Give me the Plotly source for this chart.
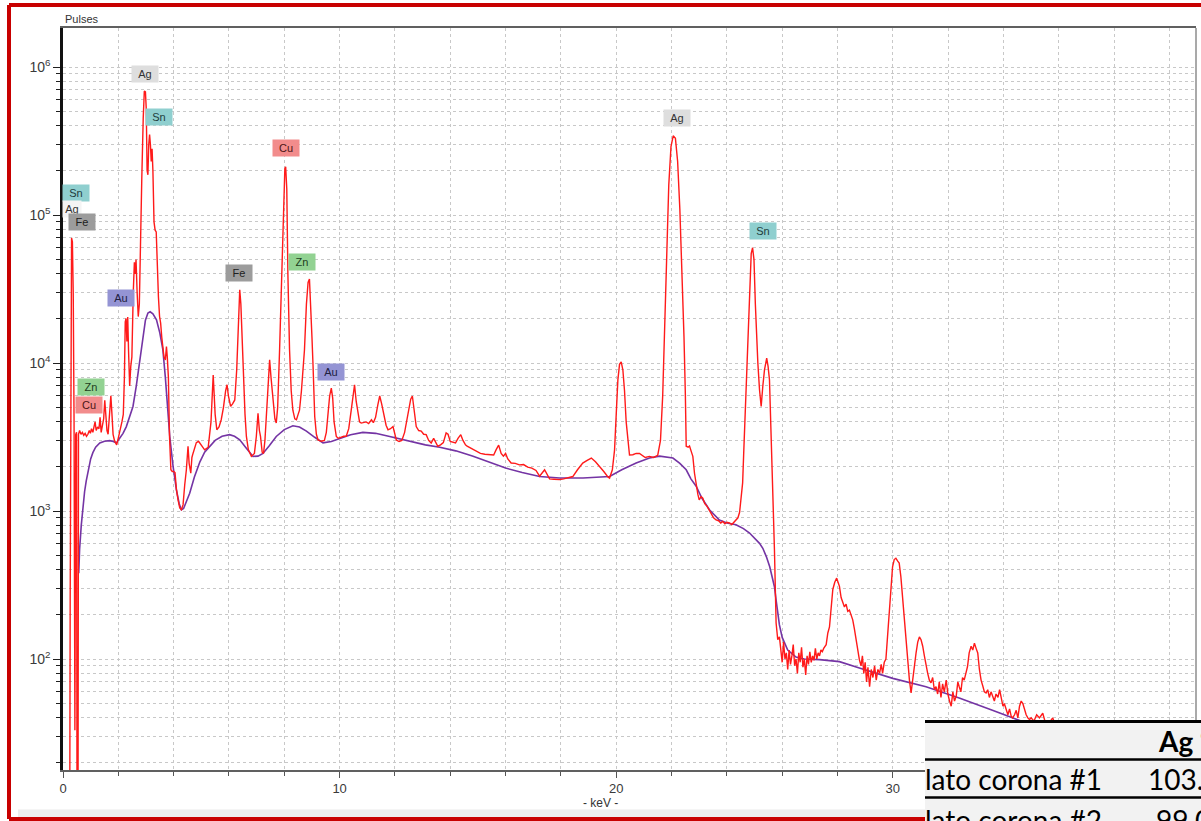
import math
import plotly.graph_objects as go

# ---------------- data ----------------
# red measured spectrum: (keV, pulses)
spectrum_points = [
    (0.00, 3), (0.24, 3), (0.26, 250), (0.28, 25000), (0.31, 70000), (0.34, 66000), (0.37, 30000),
    (0.40, 4000), (0.43, 33), (0.46, 3300), (0.49, 3400), (0.51, 3), (0.54, 3), (0.56, 3300),
    (0.60, 3500), (0.65, 3300), (0.70, 3400), (0.75, 3250), (0.80, 3350), (0.85, 3200), (0.90, 3300),
    (0.95, 3500), (0.99, 3350), (1.03, 3600), (1.08, 3400), (1.12, 3700), (1.16, 4000), (1.20, 3500),
    (1.25, 3700), (1.30, 3600), (1.34, 4300), (1.38, 3400), (1.42, 3700), (1.47, 4200), (1.51, 5600),
    (1.55, 4000), (1.59, 3500), (1.63, 3300), (1.68, 4500), (1.73, 6000), (1.77, 4500), (1.81, 3300),
    (1.86, 3000), (1.90, 2900), (1.94, 2800), (1.98, 3000), (2.03, 3300), (2.08, 3500), (2.13, 4000),
    (2.18, 4500), (2.22, 8000), (2.25, 19000), (2.28, 20000), (2.31, 14000), (2.34, 20500), (2.37, 12000),
    (2.41, 7000), (2.45, 9500), (2.49, 11000), (2.54, 30000), (2.58, 48000), (2.61, 40000), (2.64, 50000),
    (2.68, 30000), (2.72, 20600), (2.76, 25000), (2.80, 80000), (2.85, 182000), (2.90, 450000),
    (2.94, 690000), (2.98, 680000), (3.01, 520000), (3.04, 200000), (3.07, 187000), (3.10, 300000),
    (3.13, 350000), (3.16, 300000), (3.19, 230000), (3.22, 280000), (3.25, 200000), (3.29, 90000),
    (3.33, 79000), (3.37, 77000), (3.41, 40000), (3.45, 28000), (3.49, 20700), (3.53, 18600),
    (3.57, 15000), (3.61, 12900), (3.65, 11000), (3.70, 10500), (3.74, 12900), (3.77, 11000),
    (3.81, 8000), (3.85, 3200), (3.90, 1900), (3.95, 1850), (4.00, 1850), (4.05, 1820), (4.10, 1400),
    (4.16, 1190), (4.22, 1050), (4.28, 1020), (4.34, 1100), (4.40, 1500), (4.46, 1900), (4.52, 2740),
    (4.56, 2100), (4.62, 1800), (4.66, 2300), (4.70, 2450), (4.76, 2700), (4.82, 2900), (4.90, 2960),
    (5.00, 2800), (5.12, 2590), (5.25, 2700), (5.35, 4000), (5.43, 8300), (5.50, 4500), (5.56, 3540),
    (5.64, 3700), (5.72, 4140), (5.80, 5000), (5.88, 6500), (5.93, 7130), (5.98, 6000), (6.06, 5090),
    (6.13, 5300), (6.21, 5630), (6.28, 9000), (6.34, 20000), (6.39, 31300), (6.43, 25000), (6.48, 14000),
    (6.52, 7330), (6.58, 4500), (6.63, 3190), (6.70, 2600), (6.81, 2340), (6.92, 2450), (6.99, 3200),
    (7.05, 4580), (7.10, 3500), (7.14, 3190), (7.20, 2500), (7.25, 2450), (7.30, 3000), (7.35, 4350),
    (7.41, 8000), (7.47, 10500), (7.52, 8000), (7.59, 5630), (7.66, 4200), (7.71, 3930), (7.76, 5000),
    (7.83, 12300), (7.90, 35000), (7.96, 100000), (8.02, 205000), (8.05, 212000), (8.09, 150000),
    (8.13, 40000), (8.19, 12300), (8.25, 6500), (8.31, 4800), (8.38, 4200), (8.44, 4140), (8.50, 4500),
    (8.55, 4800), (8.62, 6500), (8.68, 9000), (8.73, 12300), (8.80, 25000), (8.86, 35000), (8.91, 37000),
    (8.96, 25000), (9.00, 15000), (9.04, 9500), (9.10, 4350), (9.16, 3300), (9.22, 3020), (9.34, 2960),
    (9.45, 3000), (9.52, 3400), (9.58, 4500), (9.64, 5990), (9.70, 6770), (9.75, 5800), (9.80, 4000),
    (9.88, 3190), (9.95, 3100), (10.05, 3150), (10.15, 3200), (10.24, 3200), (10.33, 3600), (10.42, 4800),
    (10.48, 6000), (10.54, 7130), (10.60, 5500), (10.66, 4500), (10.72, 4000), (10.78, 3930),
    (10.86, 3950), (10.96, 4000), (11.05, 3900), (11.15, 4140), (11.22, 3950), (11.30, 4300),
    (11.38, 5200), (11.45, 5990), (11.52, 5300), (11.60, 4500), (11.68, 3800), (11.75, 3540),
    (11.84, 3600), (11.93, 3720), (12.00, 3300), (12.05, 3020), (12.15, 2950), (12.25, 3000),
    (12.35, 3400), (12.41, 3930), (12.50, 5000), (12.57, 5700), (12.63, 5990), (12.70, 4800),
    (12.77, 3720), (12.86, 3500), (12.95, 3470), (13.04, 3300), (13.13, 3280), (13.22, 3000),
    (13.31, 2880), (13.40, 3100), (13.48, 2900), (13.55, 2740), (13.65, 2800), (13.75, 2900),
    (13.85, 3370), (13.92, 3300), (14.00, 2950), (14.10, 2900), (14.19, 2880), (14.28, 3100),
    (14.38, 3280), (14.46, 3000), (14.55, 2800), (14.61, 2740), (14.75, 2650), (14.90, 2550),
    (15.09, 2450), (15.25, 2420), (15.40, 2400), (15.57, 2390), (15.66, 2600), (15.75, 2790),
    (15.84, 2450), (15.92, 2350), (16.00, 2450), (16.08, 2250), (16.20, 2110), (16.35, 2100),
    (16.50, 2050), (16.65, 2060), (16.80, 1980), (16.95, 1950), (17.10, 1880), (17.23, 1720),
    (17.41, 1900), (17.59, 1650), (17.75, 1640), (17.95, 1630), (18.10, 1650), (18.25, 1680),
    (18.43, 1710), (18.60, 1900), (18.79, 2110), (18.95, 2200), (19.10, 2280), (19.25, 2150),
    (19.40, 2000), (19.55, 1850), (19.70, 1700), (19.76, 1670), (19.86, 1900), (19.94, 2590),
    (20.00, 4500), (20.06, 7690), (20.12, 9800), (20.18, 10200), (20.24, 9000), (20.30, 6500),
    (20.36, 4000), (20.42, 3020), (20.48, 2390), (20.60, 2400), (20.72, 2450), (20.84, 2450),
    (20.95, 2380), (21.05, 2300), (21.20, 2340), (21.35, 2300), (21.50, 2380), (21.60, 3000),
    (21.68, 6000), (21.75, 16800), (21.82, 60000), (21.90, 160000), (21.98, 290000), (22.06, 343000),
    (22.14, 330000), (22.22, 230000), (22.30, 110000), (22.38, 40000), (22.45, 15000), (22.50, 6000),
    (22.53, 2740), (22.60, 2700), (22.65, 2750), (22.72, 2500), (22.77, 2340), (22.83, 1800),
    (22.89, 1470), (22.95, 1300), (23.00, 1190), (23.07, 1250), (23.13, 1220), (23.20, 1120),
    (23.28, 1080), (23.37, 1020), (23.45, 950), (23.52, 900), (23.61, 870), (23.70, 860), (23.78, 830),
    (23.85, 850), (23.93, 820), (24.00, 840), (24.09, 830), (24.18, 810), (24.26, 840), (24.33, 860),
    (24.40, 900), (24.46, 980), (24.52, 1200), (24.57, 1550), (24.61, 2500), (24.64, 3540),
    (24.70, 9000), (24.76, 16800), (24.82, 35000), (24.88, 55000), (24.93, 60100), (24.98, 50000),
    (25.03, 25000), (25.06, 16800), (25.12, 10000), (25.18, 6600), (25.24, 5090), (25.30, 7000),
    (25.36, 9000), (25.44, 10800), (25.49, 9500), (25.54, 7700), (25.60, 3540), (25.66, 1260),
    (25.72, 550), (25.78, 175), (25.84, 135), (25.90, 141), (25.95, 120), (26.00, 95), (26.05, 130),
    (26.10, 100), (26.15, 110), (26.20, 85), (26.25, 115), (26.30, 92), (26.35, 105), (26.40, 125),
    (26.45, 90), (26.50, 100), (26.55, 80), (26.60, 110), (26.65, 95), (26.70, 120), (26.75, 88),
    (26.80, 100), (26.85, 78), (26.90, 105), (26.95, 92), (27.00, 112), (27.05, 95), (27.10, 105),
    (27.15, 98), (27.20, 118), (27.25, 100), (27.30, 110), (27.35, 105), (27.40, 115), (27.45, 112),
    (27.50, 118), (27.59, 125), (27.65, 150), (27.71, 165), (27.77, 230), (27.83, 295), (27.90, 330),
    (27.97, 352), (28.02, 330), (28.07, 310), (28.13, 260), (28.19, 239), (28.25, 225), (28.31, 235),
    (28.37, 210), (28.43, 214), (28.49, 200), (28.55, 184), (28.61, 160), (28.67, 135), (28.73, 115),
    (28.79, 99), (28.85, 90), (28.90, 105), (28.95, 80), (29.00, 95), (29.05, 70), (29.10, 88),
    (29.16, 65), (29.22, 85), (29.28, 75), (29.34, 90), (29.40, 72), (29.46, 85), (29.52, 80),
    (29.58, 92), (29.63, 80), (29.69, 95), (29.75, 100), (29.81, 140), (29.87, 205), (29.93, 300),
    (29.99, 420), (30.05, 470), (30.11, 480), (30.17, 460), (30.23, 445), (30.29, 360), (30.35, 265),
    (30.41, 180), (30.48, 122), (30.54, 90), (30.60, 72), (30.66, 59), (30.72, 75), (30.78, 89),
    (30.84, 110), (30.90, 130), (30.96, 141), (31.02, 135), (31.08, 122), (31.14, 105), (31.20, 89),
    (31.26, 80), (31.32, 72), (31.38, 69), (31.44, 75), (31.50, 62), (31.56, 65), (31.62, 58),
    (31.68, 70), (31.74, 55), (31.80, 68), (31.86, 60), (31.93, 72), (31.99, 58), (32.05, 52),
    (32.11, 48), (32.17, 60), (32.23, 52), (32.29, 56), (32.35, 70), (32.40, 65), (32.46, 60),
    (32.52, 75), (32.58, 72), (32.64, 80), (32.70, 89), (32.76, 110), (32.83, 122), (32.89, 115),
    (32.95, 128), (33.01, 118), (33.07, 110), (33.13, 85), (33.19, 72), (33.25, 66), (33.31, 60),
    (33.37, 59), (33.43, 62), (33.49, 55), (33.55, 60), (33.61, 56), (33.67, 52), (33.73, 58),
    (33.80, 55), (33.86, 62), (33.92, 54), (33.98, 48), (34.03, 50), (34.10, 45), (34.16, 42),
    (34.22, 46), (34.28, 41), (34.33, 40), (34.40, 42), (34.46, 45), (34.52, 40), (34.58, 48),
    (34.64, 52), (34.70, 50), (34.76, 45), (34.82, 42), (34.88, 40), (34.94, 39), (35.00, 40),
    (35.10, 38), (35.20, 42), (35.30, 40), (35.42, 43), (35.50, 38), (35.60, 36), (35.70, 38),
    (35.78, 40), (35.90, 35), (36.10, 33), (36.40, 30), (36.80, 28), (37.20, 27), (37.80, 25),
    (38.50, 24), (39.20, 22), (40.00, 21), (40.90, 20),
]

# purple fitted background: (keV, pulses)
background_points = [
    (0.57, 380), (0.60, 550), (0.66, 800), (0.72, 1100), (0.78, 1350), (0.84, 1600), (0.92, 1950),
    (1.00, 2250), (1.08, 2480), (1.18, 2700), (1.33, 2880), (1.50, 2960), (1.69, 2990), (1.82, 2950),
    (1.93, 2880), (2.05, 3100), (2.17, 3350), (2.29, 3720), (2.41, 4300), (2.53, 5090), (2.65, 7000),
    (2.77, 10480), (2.88, 15000), (2.98, 19500), (3.07, 21800), (3.15, 22200), (3.25, 21500),
    (3.38, 19600), (3.50, 16000), (3.61, 12300), (3.70, 8000), (3.78, 5000), (3.86, 3190), (3.98, 2000),
    (4.10, 1390), (4.20, 1120), (4.28, 1020), (4.36, 1040), (4.46, 1150), (4.58, 1320), (4.75, 1700),
    (4.95, 2150), (5.12, 2500), (5.30, 2740), (5.50, 3000), (5.75, 3200), (6.02, 3280), (6.20, 3200),
    (6.39, 3030), (6.60, 2700), (6.87, 2340), (7.05, 2350), (7.23, 2450), (7.45, 2750), (7.71, 3190),
    (8.00, 3550), (8.31, 3770), (8.55, 3700), (8.80, 3470), (9.10, 3150), (9.40, 2890), (9.70, 2950),
    (10.00, 3090), (10.40, 3280), (10.84, 3400), (11.30, 3350), (11.81, 3190), (12.20, 3060),
    (12.53, 2950), (13.10, 2800), (13.62, 2700), (14.20, 2550), (14.80, 2350), (15.31, 2160),
    (16.00, 1950), (16.60, 1820), (17.23, 1710), (17.95, 1670), (18.80, 1670), (19.76, 1710),
    (20.20, 1900), (20.72, 2110), (21.20, 2280), (21.57, 2350), (22.05, 2280), (22.30, 2100),
    (22.53, 1900), (22.70, 1650), (22.89, 1470), (23.10, 1220), (23.37, 1020), (23.73, 870),
    (24.00, 830), (24.33, 807), (24.60, 760), (24.82, 710), (25.00, 660), (25.18, 605), (25.30, 560),
    (25.43, 490), (25.55, 420), (25.65, 350), (25.72, 308), (25.78, 250), (25.84, 204), (25.90, 170),
    (26.00, 140), (26.20, 115), (26.50, 103), (26.80, 100), (27.35, 99), (28.07, 96), (28.79, 87),
    (29.40, 80), (30.00, 74), (31.20, 65), (32.40, 54.5), (33.60, 45), (34.30, 40), (35.00, 36),
    (36.00, 31), (37.00, 28), (38.00, 26), (39.00, 24), (40.00, 22), (40.90, 21),
]

# element peak labels: name, keV, pulses at label centre
label_names = ["Sn", "Ag", "Fe", "Zn", "Cu", "Au", "Ag", "Sn", "Fe", "Cu", "Zn", "Au", "Ag", "Sn"]
label_kev = [0.46, 0.31, 0.68, 1.00, 0.93, 2.09, 2.95, 3.46, 6.38, 8.05, 8.63, 9.70, 22.18, 25.29]
label_pulses = [1.40e5, 1.10e5, 9.0e4, 6.85e3, 5.2e3, 2.76e4, 9.0e5, 4.6e5, 4.07e4, 2.85e5, 4.83e4,
                8.7e3, 4.54e5, 7.8e4]

x_major_ticks = [0, 10, 20, 30, 40]
x_minor_ticks = [2, 4, 6, 8, 12, 14, 16, 18, 22, 24, 26, 28, 32, 34, 36, 38]
y_major_ticks = [1e2, 1e3, 1e4, 1e5, 1e6]
y_major_text = ["10<sup>2</sup>", "10<sup>3</sup>", "10<sup>4</sup>", "10<sup>5</sup>", "10<sup>6</sup>"]
y_minor_ticks = [m * 10 ** e for e in range(1, 6) for m in range(2, 10)]

table_header = "Ag %"
table_rows = [("lato corona #1", "103.4"), ("lato corona #2", "99.0")]

# ---------------- styles ----------------
label_style = {
    "Ag": ("#dedede", "#333333"),
    "Sn": ("#8fcfcf", "#1e3d3d"),
    "Cu": ("#f28c8c", "#4a1515"),
    "Fe": ("#9c9c9c", "#202020"),
    "Zn": ("#92d292", "#1d3d1d"),
    "Au": ("#9494d4", "#202040"),
}

W, H = 1201, 821
L, R, T, B = 63, 1196, 28, 770


def px(X):
    return (X - L) / (R - L)


def py(Y):
    return (B - Y) / (B - T)


spec_x = [p[0] for p in spectrum_points]
spec_y = [p[1] for p in spectrum_points]
bg_x = [p[0] for p in background_points]
bg_y = [p[1] for p in background_points]

fig = go.Figure()
fig.add_trace(go.Scatter(x=bg_x, y=bg_y, mode="lines",
                         line=dict(color="#7434a4", width=1.6), hoverinfo="skip"))
fig.add_trace(go.Scatter(x=spec_x, y=spec_y, mode="lines",
                         line=dict(color="#ff1a1a", width=1.4), hoverinfo="skip"))

grid = dict(gridcolor="#c8c8c8", griddash="3px,3px", gridwidth=1)

fig.update_layout(
    width=W, height=H,
    margin=dict(l=L, r=W - R, t=T, b=H - B),
    paper_bgcolor="white", plot_bgcolor="white",
    showlegend=False, hovermode=False,
    font=dict(family="Liberation Sans, Arial, sans-serif", size=13, color="#3a3a3a"),
    xaxis=dict(range=[0, 40.96], tickmode="array", tickvals=x_major_ticks,
               ticktext=[str(v) for v in x_major_ticks],
               ticks="outside", ticklen=6, tickcolor="#555555",
               tickfont=dict(size=13),
               showline=True, linecolor="#606060", linewidth=1.5, mirror=True,
               showgrid=True, zeroline=False, **grid,
               minor=dict(tickvals=x_minor_ticks, ticks="outside", ticklen=4, tickcolor="#555555",
                          showgrid=True, **grid)),
    yaxis=dict(type="log", range=[1.25, 6.264], tickmode="array", tickvals=y_major_ticks,
               ticktext=y_major_text, ticks="outside", ticklen=7, tickcolor="#202020",
               tickfont=dict(size=14),
               showline=True, linecolor="#111111", linewidth=2.5,
               showgrid=True, zeroline=False, **grid,
               minor=dict(tickvals=y_minor_ticks, ticks="outside", ticklen=4, tickcolor="#202020",
                          showgrid=True, **grid)),
)

shapes = []
# right border of the plot box
shapes.append(dict(type="line", xref="paper", yref="paper", x0=1, x1=1, y0=0, y1=1,
                   line=dict(color="#707070", width=1.2)))
# grey strip under the chart
shapes.append(dict(type="rect", xref="paper", yref="paper", x0=px(18), x1=px(1201), y0=py(817),
                   y1=py(809.5), fillcolor="#ececec", line=dict(width=0), layer="above"))
# red frame
frame = dict(color="#c80000", width=4)
shapes.append(dict(type="line", xref="paper", yref="paper", x0=px(9), x1=px(1215), y0=py(5), y1=py(5),
                   line=frame))
shapes.append(dict(type="line", xref="paper", yref="paper", x0=px(9), x1=px(9), y0=py(5), y1=py(819),
                   line=frame))
shapes.append(dict(type="line", xref="paper", yref="paper", x0=px(9), x1=px(1215), y0=py(819),
                   y1=py(819), line=frame))
# overlaid table
shapes.append(dict(type="rect", xref="paper", yref="paper", x0=px(925), x1=px(1215), y0=py(840),
                   y1=py(721), fillcolor="#f2f2f2", line=dict(width=0), layer="above"))
for yy, wdt in [(721.5, 3), (759.5, 2.5), (797.5, 2.5)]:
    shapes.append(dict(type="line", xref="paper", yref="paper", x0=px(925), x1=px(1215),
                       y0=py(yy), y1=py(yy), line=dict(color="#000000", width=wdt), layer="above"))
fig.update_layout(shapes=shapes)

ann = []
# element labels
for name, kev, pul in zip(label_names, label_kev, label_pulses):
    bgc, fgc = label_style[name]
    small = (name == "Ag" and kev < 1)
    ann.append(dict(x=kev, y=math.log10(pul), xref="x", yref="y", text=name, showarrow=False,
                    font=dict(size=11, color=fgc, family="Liberation Sans, Arial, sans-serif"),
                    bgcolor=("#f4f4f4" if small else bgc), width=(16 if small else 24), height=14,
                    borderpad=1))
# axis titles
ann.append(dict(x=0, y=1, xref="paper", yref="paper", xanchor="left", yanchor="bottom", text="Pulses",
                showarrow=False, font=dict(size=11, color="#333333"), xshift=0, yshift=1))
ann.append(dict(x=px(600), y=py(803), xref="paper", yref="paper", xanchor="center", yanchor="middle",
                text="- keV -", showarrow=False, font=dict(size=12, color="#333333")))
# table text
tfont = dict(family="Lato, Carlito, sans-serif", size=28, color="#000000")
ann.append(dict(x=px(1156), y=py(741), xref="paper", yref="paper", xanchor="left", yanchor="middle",
                text="<b>" + table_header + "</b>", showarrow=False, font=tfont))
row_centres = [779, 820]
num_x = [1146, 1154]
for (lab, val), yc, nx in zip(table_rows, row_centres, num_x):
    ann.append(dict(x=px(923), y=py(yc), xref="paper", yref="paper", xanchor="left", yanchor="middle",
                    text=lab, showarrow=False, font=tfont))
    ann.append(dict(x=px(nx), y=py(yc), xref="paper", yref="paper", xanchor="left", yanchor="middle",
                    text=val, showarrow=False, font=tfont))
fig.update_layout(annotations=ann)

fig.write_html("out.html", config={"displayModeBar": False},
               post_script="document.body.style.margin='0';document.body.style.overflow='hidden';")
